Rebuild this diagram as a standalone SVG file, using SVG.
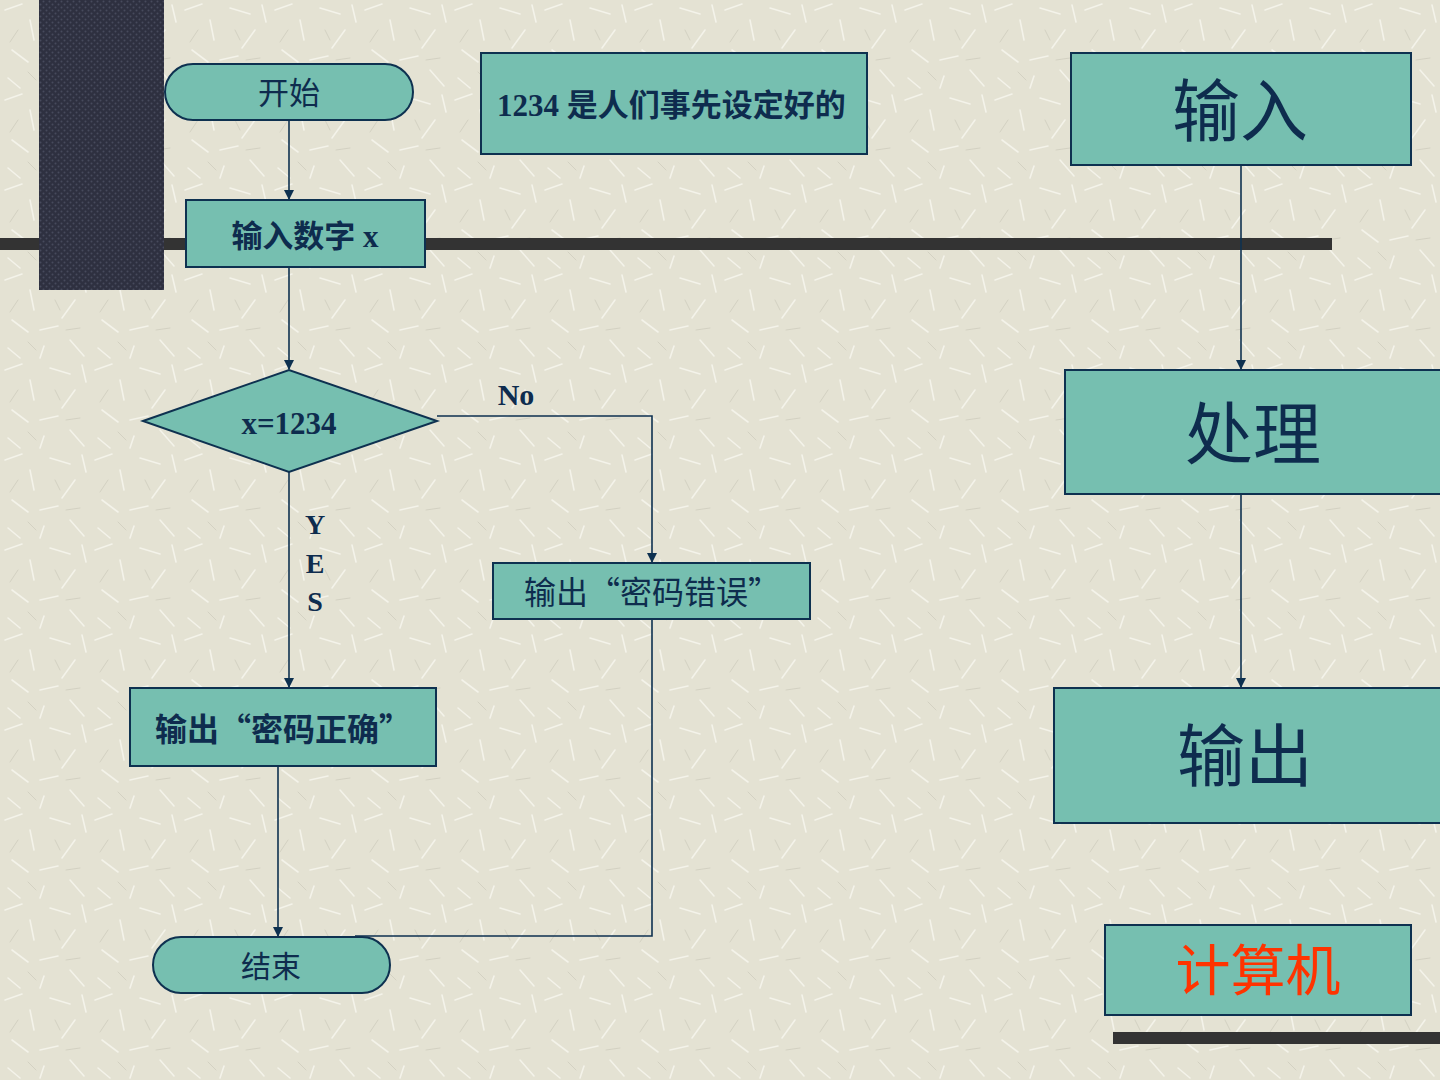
<svg xmlns="http://www.w3.org/2000/svg" width="1440" height="1080" viewBox="0 0 1440 1080">
<style>
.box{fill:#76BFB0;stroke:#0E3150;stroke-width:2}
.ln{fill:none;stroke:#0E3150;stroke-width:1.6}
.t{font-family:"Liberation Serif","Noto Sans CJK SC",serif;fill:#0E2C4E}
.b{font-weight:bold}
.q{font-family:"Noto Sans CJK SC",sans-serif}
</style>
<defs>
<pattern id="tex" width="90" height="90" patternUnits="userSpaceOnUse">
<rect width="90" height="90" fill="#E4E2D3"/>
<g stroke="#F4F3EA" stroke-width="1.6" stroke-linecap="round">
<line x1="5" y1="10" x2="22" y2="4"/><line x1="30" y1="20" x2="34" y2="40"/><line x1="50" y1="8" x2="70" y2="14"/>
<line x1="75" y1="30" x2="62" y2="48"/><line x1="12" y1="50" x2="28" y2="62"/><line x1="40" y1="60" x2="58" y2="56"/>
<line x1="70" y1="70" x2="84" y2="86"/><line x1="8" y1="78" x2="20" y2="88"/><line x1="44" y1="76" x2="40" y2="88"/>
<line x1="82" y1="5" x2="86" y2="22"/>
</g>
<g stroke="#D3D1C2" stroke-width="1" stroke-linecap="round">
<line x1="18" y1="30" x2="10" y2="42"/><line x1="55" y1="30" x2="60" y2="40"/><line x1="28" y1="72" x2="36" y2="80"/><line x1="66" y1="60" x2="80" y2="58"/>
</g>
</pattern>
<pattern id="dots" width="6" height="6" patternUnits="userSpaceOnUse">
<rect width="6" height="6" fill="#2E3040"/>
<circle cx="1.5" cy="1.5" r="1" fill="#474A5C"/><circle cx="4.5" cy="4.5" r="1" fill="#474A5C"/>
</pattern>
<marker id="ah" markerWidth="10" markerHeight="10" refX="9" refY="5" orient="auto" markerUnits="userSpaceOnUse">
<path d="M0,0 L10,5 L0,10 Z" fill="#0E3150"/>
</marker>
</defs>
<rect width="1440" height="1080" fill="url(#tex)"/>
<rect x="0" y="238" width="1332" height="12" fill="#333333"/>
<rect x="39" y="0" width="125" height="290" fill="url(#dots)"/>
<rect x="1113" y="1032" width="327" height="12" fill="#333333"/>

<g id="connectors">
<line class="ln" x1="289" y1="120" x2="289" y2="199" marker-end="url(#ah)"/>
<line class="ln" x1="289" y1="267" x2="289" y2="369" marker-end="url(#ah)"/>
<line class="ln" x1="289" y1="472" x2="289" y2="687" marker-end="url(#ah)"/>
<polyline class="ln" points="437,416 652,416 652,562" marker-end="url(#ah)"/>
<line class="ln" x1="278" y1="766" x2="278" y2="936" marker-end="url(#ah)"/>
<polyline class="ln" points="652,619 652,936 355,936"/>
<line class="ln" x1="1241" y1="165" x2="1241" y2="369" marker-end="url(#ah)"/>
<line class="ln" x1="1241" y1="494" x2="1241" y2="687" marker-end="url(#ah)"/>
</g>

<g id="start"><rect class="box" x="165" y="64" width="248" height="56" rx="28"/>
<text class="t" x="289" y="104" font-size="31" text-anchor="middle">开始</text></g>
<g id="input-x"><rect class="box" x="186" y="200" width="239" height="67"/>
<text class="t b" x="305" y="247" font-size="31" text-anchor="middle">输入数字 x</text></g>
<g id="decision"><polygon class="box" points="143,421 289,370 437,421 289,472"/>
<text class="t b" x="289" y="434" font-size="31" text-anchor="middle">x=1234</text></g>
<text class="t b" x="516" y="405" font-size="30" text-anchor="middle">No</text>
<g class="t b" font-size="28" text-anchor="middle">
<text x="315" y="534">Y</text><text x="315" y="573">E</text><text x="315" y="611">S</text></g>
<g id="out-wrong"><rect class="box" x="493" y="563" width="317" height="56"/>
<text class="t" x="524" y="604" font-size="32">输出<tspan class="q">“</tspan>密码错误<tspan class="q">”</tspan></text></g>
<g id="out-right"><rect class="box" x="130" y="688" width="306" height="78"/>
<text class="t b" x="155" y="741" font-size="32">输出<tspan class="q">“</tspan>密码正确<tspan class="q">”</tspan></text></g>
<g id="end"><rect class="box" x="153" y="937" width="237" height="56" rx="28"/>
<text class="t" x="271" y="977" font-size="30" text-anchor="middle">结束</text></g>
<g id="note"><rect class="box" x="481" y="53" width="386" height="101"/>
<text class="t b" x="497" y="116" font-size="31">1234 是人们事先设定好的</text></g>
<g id="in"><rect class="box" x="1071" y="53" width="340" height="112"/>
<text class="t" x="1240" y="136" font-size="68" text-anchor="middle">输入</text></g>
<g id="proc"><rect class="box" x="1065" y="370" width="380" height="124"/>
<text class="t" x="1253" y="459" font-size="68" text-anchor="middle">处理</text></g>
<g id="out"><rect class="box" x="1054" y="688" width="390" height="135"/>
<text class="t" x="1245" y="781" font-size="68" text-anchor="middle">输出</text></g>
<g id="computer"><rect class="box" x="1105" y="925" width="306" height="90"/>
<text x="1258" y="990" font-size="55" text-anchor="middle" style="font-family:'Liberation Serif','Noto Sans CJK SC',serif;fill:#FF3300">计算机</text></g>
</svg>
